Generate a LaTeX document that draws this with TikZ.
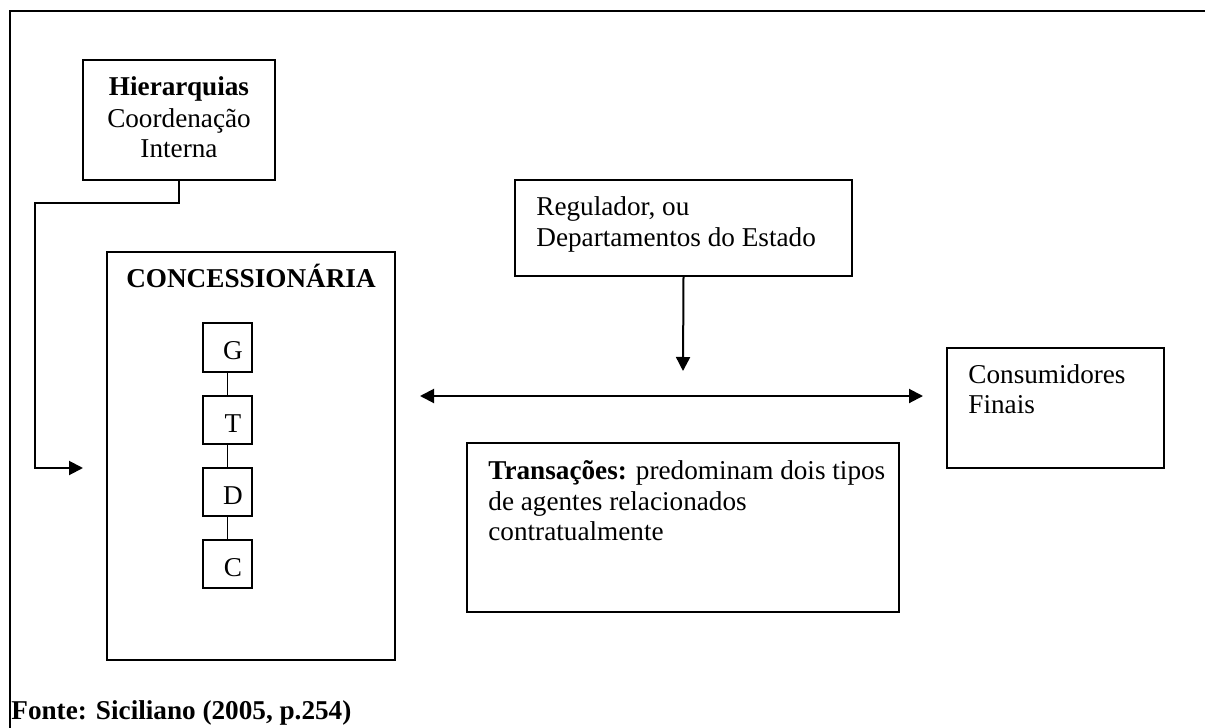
\documentclass[tikz,border=0pt]{standalone}
\usepackage{fontspec}
\setmainfont{Liberation Serif}
\usetikzlibrary{arrows.meta,fit}
\begin{document}
\begin{tikzpicture}[x=0.5pt,y=-0.5pt,
  box/.style={draw, line width=1pt, inner sep=0pt},
  lbl/.style={anchor=base west, inner sep=0pt, font=\fontsize{13.6}{15.5}\selectfont},
  clbl/.style={lbl, anchor=base},
  conn/.style={line width=1pt},
  arr/.style={line width=1pt, -{Triangle[length=7pt,width=7pt]}},
  dbl/.style={line width=1pt, {Triangle[length=7pt,width=7pt]}-{Triangle[length=7pt,width=7pt]}},
]
\useasboundingbox (0,0) rectangle (1205,728);

% outer frame (open to the right and bottom)
\draw[conn] (10,728) -- (10,11) -- (1205,11);

% Hierarquias
\node[box, fit={(83,60) (275,180)}] (hier) {};
\node[clbl] (hier1) at (179,95) {\bfseries Hierarquias};
\node[clbl] (hier2) at (179,127) {Coordenação};
\node[clbl] (hier3) at (179,157) {Interna};

% Concessionária with the G-T-D-C chain
\node[box, fit={(107,252) (395,660)}] (conc) {};
\node[clbl] (conct) at (251,287) {\bfseries CONCESSIONÁRIA};
\node[box, fit={(203,323) (252,372)}] (g) {};
\node[box, fit={(203,396) (252,444)}] (t) {};
\node[box, fit={(203,468) (252,516)}] (d) {};
\node[box, fit={(203,540) (252,588)}] (c) {};
\node[clbl] (gl) at (233,359) {G};
\node[clbl] (tl) at (233,432) {T};
\node[clbl] (dl) at (233,504) {D};
\node[clbl] (cl) at (233,576) {C};
\draw[line width=0.8pt] (g.south) -- (t.north);
\draw[line width=0.8pt] (t.south) -- (d.north);
\draw[line width=0.8pt] (d.south) -- (c.north);

% Regulador
\node[box, fit={(515,180) (852,276)}] (reg) {};
\node[lbl] (reg1) at (536,215) {Regulador, ou};
\node[lbl] (reg2) at (536,246) {Departamentos do Estado};

% Consumidores
\node[box, fit={(947,348) (1164,468)}] (cons) {};
\node[lbl] (cons1) at (968,383) {Consumidores};
\node[lbl] (cons2) at (968,413) {Finais};

% Transações
\node[box, fit={(467,443) (899,612)}] (trans) {};
\node[lbl] (trans1) at (488,479) {\textbf{Transações:} predominam dois tipos};
\node[lbl] (trans2) at (488,510) {de agentes relacionados};
\node[lbl] (trans3) at (488,540) {contratualmente};

% connectors
\coordinate (hin) at (83,468);
\coordinate (regin) at (683,371);
\coordinate (tleft) at (420,396);
\coordinate (tright) at (923,396);
\draw[arr] (hier.south) -- ++(0,22) -| (35,468) -- (hin);
\draw[arr] (reg.south) -- (regin);
\draw[dbl] (tleft) -- (tright);

% source line
\node[lbl] (fonte) at (11,719) {\bfseries Fonte: Siciliano (2005, p.254)};
\end{tikzpicture}
\end{document}
